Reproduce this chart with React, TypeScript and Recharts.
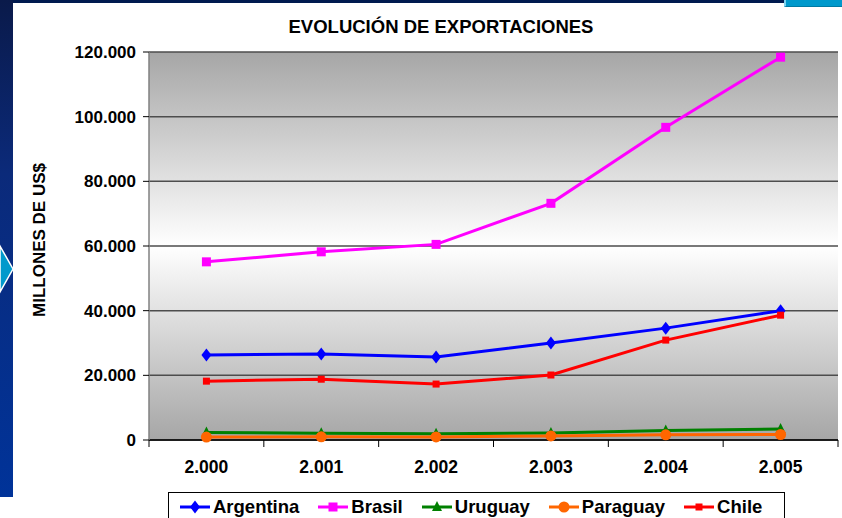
import { CartesianGrid, Legend, Line, LineChart, XAxis, YAxis } from 'recharts'

// años (etiquetas del eje X tal como aparecen en la lámina)
const years = ['2.000', '2.001', '2.002', '2.003', '2.004', '2.005']

// exportaciones en millones de US$
const argentina = [26300, 26600, 25700, 30000, 34600, 40000]
const brasil = [55100, 58200, 60500, 73200, 96700, 118400]
const uruguay = [2300, 2100, 1900, 2200, 2900, 3400]
const paraguay = [900, 1000, 950, 1250, 1600, 1700]
const chile = [18200, 18800, 17300, 20100, 30900, 38600]

const yTicks = [0, 20000, 40000, 60000, 80000, 100000, 120000]

const FONT = '"Liberation Sans", Arial, sans-serif'

const data = years.map((year, i) => ({
  year,
  Argentina: argentina[i],
  Brasil: brasil[i],
  Uruguay: uruguay[i],
  Paraguay: paraguay[i],
  Chile: chile[i],
}))

type Shape = 'diamond' | 'square' | 'triangle' | 'circle' | 'smallSquare'

const series: { key: string; color: string; shape: Shape }[] = [
  { key: 'Argentina', color: '#0000ff', shape: 'diamond' },
  { key: 'Brasil', color: '#ff00ff', shape: 'square' },
  { key: 'Uruguay', color: '#008000', shape: 'triangle' },
  { key: 'Paraguay', color: '#ff6600', shape: 'circle' },
  { key: 'Chile', color: '#ff0000', shape: 'smallSquare' },
]

function Marker({ cx, cy, color, shape }: { cx: number; cy: number; color: string; shape: Shape }) {
  if (cx == null || cy == null) return null
  switch (shape) {
    case 'diamond':
      return <polygon points={`${cx},${cy - 6.5} ${cx + 5},${cy} ${cx},${cy + 6.5} ${cx - 5},${cy}`} fill={color} />
    case 'square':
      return <rect x={cx - 4.5} y={cy - 4.5} width={9} height={9} fill={color} />
    case 'smallSquare':
      return <rect x={cx - 3.5} y={cy - 3.5} width={7} height={7} fill={color} />
    case 'triangle':
      return <polygon points={`${cx},${cy - 6} ${cx + 5},${cy + 4} ${cx - 5},${cy + 4}`} fill={color} />
    case 'circle':
      return <circle cx={cx} cy={cy} r={5.5} fill={color} />
  }
}

function dotFor(color: string, shape: Shape) {
  return (props: any) => <Marker key={props.index} cx={props.cx} cy={props.cy} color={color} shape={shape} />
}

// etiqueta del año + marcas de graduación entre categorías
function YearTick(props: any) {
  const { x, y, payload, width, visibleTicksCount, index } = props
  const band = width / visibleTicksCount
  return (
    <g>
      <line x1={x - band / 2} y1={y} x2={x - band / 2} y2={y + 7} stroke="#000" />
      {index === visibleTicksCount - 1 && (
        <line x1={x + band / 2} y1={y} x2={x + band / 2} y2={y + 7} stroke="#000" />
      )}
      <text x={x} y={y + 33} textAnchor="middle" fontSize={17.5} fontWeight="bold" fontFamily={FONT} fill="#000">
        {payload.value}
      </text>
    </g>
  )
}

function LegendBox() {
  return (
    <div
      style={{
        boxSizing: 'border-box',
        width: 617,
        height: 34,
        border: '1px solid #000',
        background: '#fff',
        display: 'flex',
        alignItems: 'flex-start',
        paddingLeft: 10,
        paddingTop: 3,
        fontFamily: FONT,
        fontWeight: 'bold',
        fontSize: 18.5,
        color: '#000',
      }}
    >
      {series.map((s) => (
        <div key={s.key} style={{ display: 'flex', alignItems: 'center', marginRight: 18, height: 22 }}>
          <svg width={32} height={16} style={{ marginRight: 2 }}>
            <line x1={1} y1={8} x2={31} y2={8} stroke={s.color} strokeWidth={3} />
            <Marker cx={16} cy={8} color={s.color} shape={s.shape} />
          </svg>
          <span>{s.key}</span>
        </div>
      ))}
    </div>
  )
}

export default function App() {
  return (
    <div
      style={{
        position: 'absolute',
        left: 0,
        top: 0,
        width: 842,
        height: 518,
        overflow: 'hidden',
        background: '#fff',
      }}
    >
      {/* marco de la diapositiva */}
      <div style={{ position: 'absolute', left: 0, top: 0, width: 784, height: 3, background: '#001a4f' }} />
      <div
        style={{
          position: 'absolute',
          left: 784,
          top: 0,
          width: 58,
          height: 7,
          background: '#0099cc',
          borderLeft: '2px solid #7fd3f0',
          borderBottom: '1px solid #007aa3',
          boxSizing: 'border-box',
        }}
      />
      <div
        style={{
          position: 'absolute',
          left: 0,
          top: 0,
          width: 13,
          height: 497,
          background: 'linear-gradient(to bottom, #0a1a4a 0%, #0b2a7a 35%, #003399 100%)',
        }}
      />
      <svg style={{ position: 'absolute', left: 0, top: 240 }} width={16} height={56}>
        <polygon points="0,6 13,29 0,52" fill="#0099cc" stroke="#ffffff" strokeWidth={1.5} />
      </svg>

      <div
        style={{
          position: 'absolute',
          left: 0,
          width: 842,
          top: 16,
          textAlign: 'center',
          paddingLeft: 40,
          boxSizing: 'border-box',
          fontFamily: FONT,
          fontWeight: 'bold',
          fontSize: 18.5,
          color: '#000',
        }}
      >
        EVOLUCIÓN DE EXPORTACIONES
      </div>

      <div style={{ position: 'absolute', left: 0, top: 0 }}>
        <LineChart width={842} height={518} data={data} margin={{ top: 52, right: 4, left: 0, bottom: 0 }}>
          <defs>
            <linearGradient id="plotBg" x1="0" y1="0" x2="0" y2="1">
              <stop offset="0%" stopColor="#a6a6a6" />
              <stop offset="50%" stopColor="#ffffff" />
              <stop offset="100%" stopColor="#a6a6a6" />
            </linearGradient>
          </defs>
          <CartesianGrid vertical={false} stroke="#4d4d4d" strokeWidth={1.5} fill="url(#plotBg)" fillOpacity={1} />
          <XAxis
            dataKey="year"
            scale="band"
            height={48}
            axisLine={{ stroke: '#000', strokeWidth: 1.5 }}
            tickLine={false}
            tickSize={0}
            tickMargin={0}
            interval={0}
            tick={<YearTick />}
          />
          <YAxis
            width={149}
            domain={[0, 120000]}
            ticks={yTicks}
            interval={0}
            tickFormatter={(v: number) => (v === 0 ? '0' : v.toLocaleString('de-DE'))}
            tick={{ fontSize: 17, fontWeight: 'bold', fill: '#000', fontFamily: FONT }}
            tickSize={6}
            tickMargin={7}
            tickLine={{ stroke: '#000' }}
            axisLine={{ stroke: '#808080', strokeWidth: 1.5 }}
          />
          <YAxis
            yAxisId="borde"
            orientation="right"
            width={0}
            domain={[0, 120000]}
            tick={false}
            tickLine={false}
            axisLine={{ stroke: '#808080', strokeWidth: 1.5 }}
          />
          <Legend
            verticalAlign="bottom"
            content={<LegendBox />}
            wrapperStyle={{ left: 168, top: 492, width: 617, height: 30 }}
          />
          {series.map((s) => (
            <Line
              key={s.key}
              type="linear"
              dataKey={s.key}
              stroke={s.color}
              strokeWidth={3}
              dot={dotFor(s.color, s.shape)}
              activeDot={false}
              isAnimationActive={false}
            />
          ))}
        </LineChart>
      </div>

      <svg style={{ position: 'absolute', left: 0, top: 0, pointerEvents: 'none' }} width={80} height={518}>
        <text
          transform="translate(45,240) rotate(-90)"
          textAnchor="middle"
          fontSize={17}
          fontWeight="bold"
          fontFamily={FONT}
          fill="#000"
        >
          MILLONES DE US$
        </text>
      </svg>
    </div>
  )
}
